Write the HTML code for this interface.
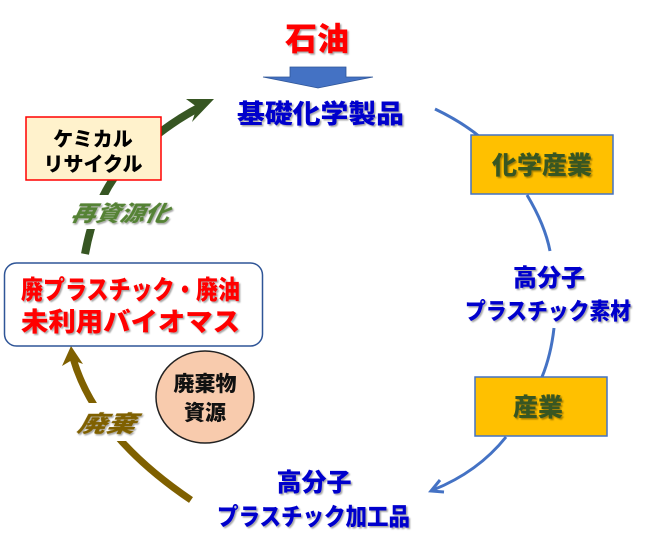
<!DOCTYPE html>
<html><head><meta charset="utf-8"><style>
html,body{margin:0;padding:0;background:#fff;}
svg{display:block;}
text{font-family:"Liberation Sans","Noto Sans CJK JP",sans-serif;font-weight:900;}
</style></head><body>
<svg width="650" height="548" viewBox="0 0 650 548" xmlns="http://www.w3.org/2000/svg">
<defs>
<filter id="sh" x="-10%" y="-10%" width="120%" height="130%"><feDropShadow dx="1.5" dy="1.5" stdDeviation="0.8" flood-color="#000" flood-opacity="0.35"/></filter>
</defs>

<text x="317" y="50" font-size="32" fill="#ff0000" text-anchor="middle" filter="url(#sh)">石油</text>
<polygon points="290,67 346,67 346,77 373,77 318,88 263,77 290,77" fill="#4472c4" stroke="#2f5597" stroke-width="0.8"/>

<text x="237" y="123" font-size="26" fill="#0000cc" textLength="167" lengthAdjust="spacingAndGlyphs" filter="url(#sh)">基礎化学製品</text>

<path d="M435,109 Q462,122 480,137" fill="none" stroke="#4472c4" stroke-width="3"/>
<path d="M527,195 Q545,225 550,251" fill="none" stroke="#4472c4" stroke-width="3"/>
<path d="M554,328 Q551,355 542,377" fill="none" stroke="#4472c4" stroke-width="3"/>
<path d="M506,437 Q478,472 433,490" fill="none" stroke="#4472c4" stroke-width="3"/>
<polyline points="440,480 431,491 444,492" fill="none" stroke="#4472c4" stroke-width="3"/>

<rect x="471" y="135" width="142" height="59" fill="#ffc000" stroke="#4472c4" stroke-width="1.5"/>
<text x="542" y="174" font-size="25" fill="#375623" text-anchor="middle" filter="url(#sh)">化学産業</text>

<text x="549" y="286" font-size="24" fill="#0000cc" text-anchor="middle" filter="url(#sh)">高分子</text>
<text x="465" y="319" font-size="23" fill="#0000cc" textLength="166" lengthAdjust="spacingAndGlyphs" filter="url(#sh)">プラスチック素材</text>

<rect x="475" y="377" width="132" height="59" fill="#ffc000" stroke="#4472c4" stroke-width="1.5"/>
<text x="538" y="416" font-size="25" fill="#375623" text-anchor="middle" filter="url(#sh)">産業</text>

<text x="314" y="491" font-size="25" fill="#0000cc" text-anchor="middle" filter="url(#sh)">高分子</text>
<text x="217" y="525" font-size="24" fill="#0000cc" textLength="193" lengthAdjust="spacingAndGlyphs" filter="url(#sh)">プラスチック加工品</text>

<!-- olive arrow -->
<path d="M191,500 Q95,435 73,358" fill="none" stroke="#7f6000" stroke-width="7"/>
<polygon points="71,346 62,366 72,360 83,364" fill="#7f6000"/>
<rect x="68" y="403" width="80" height="38" fill="#fff"/>
<text x="77" y="432" font-size="23" fill="#7f6000" font-style="italic" textLength="58" lengthAdjust="spacingAndGlyphs" transform="skewX(-12) translate(91,0)" filter="url(#sh)">廃棄</text>

<ellipse cx="205" cy="397" rx="49" ry="46" fill="#f8cbad" stroke="#222" stroke-width="1.5"/>
<text x="205" y="391" font-size="21" fill="#111" text-anchor="middle">廃棄物</text>
<text x="205" y="420" font-size="21" fill="#111" text-anchor="middle">資源</text>

<rect x="4.5" y="263" width="258" height="83" rx="12" fill="#fff" stroke="#2f5597" stroke-width="1.5"/>
<text x="21" y="299" font-size="26" fill="#ff0000" textLength="219" lengthAdjust="spacingAndGlyphs" filter="url(#sh)">廃プラスチック・廃油</text>
<text x="21" y="331" font-size="26" fill="#ff0000" textLength="219" lengthAdjust="spacingAndGlyphs" filter="url(#sh)">未利用バイオマス</text>

<path d="M85,254 Q95,200 120,170 Q155,130 202,106" fill="none" stroke="#375623" stroke-width="8"/>
<polygon points="214,99 186,99 197,107 192,122" fill="#375623"/>
<rect x="60" y="195" width="125" height="34" fill="#fff"/>
<text x="71" y="221" font-size="22" fill="#548235" font-style="italic" textLength="98" lengthAdjust="spacingAndGlyphs" transform="skewX(-12) translate(46,0)" filter="url(#sh)">再資源化</text>

<rect x="26" y="117" width="135" height="63" fill="#fff2cc" stroke="#ff0000" stroke-width="1.5"/>
<text x="93" y="146" font-size="20" fill="#000" text-anchor="middle">ケミカル</text>
<text x="93" y="171" font-size="20" fill="#000" text-anchor="middle">リサイクル</text>
</svg>
</body></html>
